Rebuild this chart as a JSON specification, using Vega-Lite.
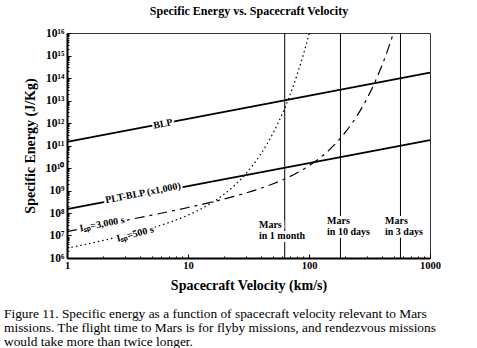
{
  "$schema": "https://vega.github.io/schema/vega-lite/v6.json",
  "width": 363,
  "height": 225,
  "autosize": {"type": "none"},
  "padding": {"left": 67, "top": 33, "right": 47, "bottom": 90},
  "background": "white",
  "config": {"view": {"stroke": "#333", "strokeWidth": 1}, "font": "Liberation Serif"},
  "title": {
    "text": ["Figure 11. Specific energy as a function of spacecraft velocity relevant to Mars", "missions.  The flight time to Mars is for flyby missions, and rendezvous missions", "would take more than twice longer."],
    "orient": "bottom",
    "anchor": "start",
    "frame": "group",
    "font": "Liberation Serif",
    "fontSize": 13.4,
    "fontWeight": "normal",
    "color": "black",
    "lineHeight": 14,
    "offset": 14,
    "dx": -63
  },
  "datasets": {
    "lines": [
      {"series": "BLP", "v": 1, "E": 1.45e11},
      {"series": "BLP", "v": 1000, "E": 1.75e14},
      {"series": "PLT-BLP", "v": 1, "E": 1.5e8},
      {"series": "PLT-BLP", "v": 1000, "E": 1.75e11}
    ],
    "isp": [
      {"series": "500", "v": 1, "E": 2.72e6},
      {"series": "500", "v": 1.5, "E": 4.30e6},
      {"series": "500", "v": 2, "E": 6.05e6},
      {"series": "500", "v": 3, "E": 1.014e7},
      {"series": "500", "v": 4, "E": 1.515e7},
      {"series": "500", "v": 5, "E": 2.13e7},
      {"series": "500", "v": 7, "E": 3.81e7},
      {"series": "500", "v": 10, "E": 8.04e7},
      {"series": "500", "v": 12, "E": 1.27e8},
      {"series": "500", "v": 15, "E": 2.44e8},
      {"series": "500", "v": 17, "E": 3.73e8},
      {"series": "500", "v": 20, "E": 6.99e8},
      {"series": "500", "v": 25, "E": 1.96e9},
      {"series": "500", "v": 30, "E": 5.46e9},
      {"series": "500", "v": 35, "E": 1.517e10},
      {"series": "500", "v": 40, "E": 4.21e10},
      {"series": "500", "v": 45, "E": 1.169e11},
      {"series": "500", "v": 50, "E": 3.24e11},
      {"series": "500", "v": 55, "E": 8.99e11},
      {"series": "500", "v": 60, "E": 2.50e12},
      {"series": "500", "v": 65, "E": 6.92e12},
      {"series": "500", "v": 70, "E": 1.92e13},
      {"series": "500", "v": 75, "E": 5.33e13},
      {"series": "500", "v": 80, "E": 1.48e14},
      {"series": "500", "v": 85, "E": 4.10e14},
      {"series": "500", "v": 90, "E": 1.14e15},
      {"series": "500", "v": 95, "E": 3.16e15},
      {"series": "500", "v": 100, "E": 8.76e15},
      {"series": "500", "v": 105, "E": 2.43e16},
      {"series": "3000", "v": 1, "E": 1.495e7},
      {"series": "3000", "v": 1.5, "E": 2.262e7},
      {"series": "3000", "v": 2, "E": 3.04e7},
      {"series": "3000", "v": 3, "E": 4.64e7},
      {"series": "3000", "v": 5, "E": 8.01e7},
      {"series": "3000", "v": 7, "E": 1.162e8},
      {"series": "3000", "v": 10, "E": 1.751e8},
      {"series": "3000", "v": 15, "E": 2.877e8},
      {"series": "3000", "v": 20, "E": 4.21e8},
      {"series": "3000", "v": 30, "E": 7.67e8},
      {"series": "3000", "v": 40, "E": 1.25e9},
      {"series": "3000", "v": 50, "E": 1.935e9},
      {"series": "3000", "v": 70, "E": 4.24e9},
      {"series": "3000", "v": 100, "E": 1.254e10},
      {"series": "3000", "v": 125, "E": 2.99e10},
      {"series": "3000", "v": 150, "E": 7.06e10},
      {"series": "3000", "v": 200, "E": 3.89e11},
      {"series": "3000", "v": 250, "E": 2.13e12},
      {"series": "3000", "v": 300, "E": 1.167e13},
      {"series": "3000", "v": 350, "E": 6.40e13},
      {"series": "3000", "v": 400, "E": 3.50e14},
      {"series": "3000", "v": 450, "E": 1.92e15},
      {"series": "3000", "v": 500, "E": 1.05e16},
      {"series": "3000", "v": 520, "E": 2.08e16}
    ],
    "mars": [
      {"name": "Mars in 1 month", "v": 63},
      {"name": "Mars in 10 days", "v": 182},
      {"name": "Mars in 3 days", "v": 570}
    ],
    "labels": [
      {"key": "line", "text": "BLP", "v": 6.2, "E": 9.0e11},
      {"key": "line", "text": "PLT-BLP (x1,000)", "v": 4.25, "E": 7.7e8},
      {"key": "i3000", "text": "Iₛₚ=3,000 s", "v": 1.95, "E": 3.2e7},
      {"key": "i500", "text": "Iₛₚ=500 s", "v": 3.65, "E": 1.17e7},
      {"key": "mars", "text": "Mars\nin 1 month", "v": 38.6, "E": 4.9e7},
      {"key": "mars", "text": "Mars\nin 10 days", "v": 141, "E": 7.4e7},
      {"key": "mars", "text": "Mars\nin 3 days", "v": 425, "E": 7.4e7}
    ]
  },
  "resolve": {"axis": {"x": "independent"}},
  "layer": [
    {
      "data": {"name": "lines"},
      "mark": {"type": "line", "color": "black", "strokeWidth": 1.8},
      "encoding": {
        "x": {
          "field": "v", "type": "quantitative",
          "scale": {"type": "log", "domain": [1, 1000], "nice": false},
          "axis": {
            "orient": "bottom",
            "values": [1, 2, 3, 4, 5, 6, 7, 8, 9, 10, 20, 30, 40, 50, 60, 70, 80, 90, 100, 200, 300, 400, 500, 600, 700, 800, 900, 1000],
            "labelExpr": "abs(log(datum.value)/LN10 - round(log(datum.value)/LN10)) < 0.01 ? format(datum.value, 'd') : ''",
            "tickSize": {"condition": {"test": "abs(log(datum.value)/LN10 - round(log(datum.value)/LN10)) < 0.01", "value": -4}, "value": -2},
            "tickColor": "black",
            "domainColor": "black",
            "domainWidth": 2,
            "grid": false,
            "labelFont": "Liberation Serif",
            "labelFontWeight": "bold",
            "labelFontSize": 10.5,
            "labelColor": "black",
            "labelPadding": 6,
            "labelOverlap": false,
            "labelFlush": false,
            "title": "Spacecraft Velocity (km/s)",
            "titleFont": "Liberation Serif",
            "titleFontSize": 14,
            "titleFontWeight": "bold",
            "titleColor": "black",
            "titlePadding": 6
          }
        },
        "y": {
          "field": "E", "type": "quantitative",
          "scale": {"type": "log", "domain": [1e6, 1e16], "nice": false},
          "axis": {
            "values": [1e6, 2e6, 3e6, 4e6, 5e6, 6e6, 7e6, 8e6, 9e6, 1e7, 2e7, 3e7, 4e7, 5e7, 6e7, 7e7, 8e7, 9e7, 1e8, 2e8, 3e8, 4e8, 5e8, 6e8, 7e8, 8e8, 9e8, 1e9, 2e9, 3e9, 4e9, 5e9, 6e9, 7e9, 8e9, 9e9, 1e10, 2e10, 3e10, 4e10, 5e10, 6e10, 7e10, 8e10, 9e10, 1e11, 2e11, 3e11, 4e11, 5e11, 6e11, 7e11, 8e11, 9e11, 1e12, 2e12, 3e12, 4e12, 5e12, 6e12, 7e12, 8e12, 9e12, 1e13, 2e13, 3e13, 4e13, 5e13, 6e13, 7e13, 8e13, 9e13, 1e14, 2e14, 3e14, 4e14, 5e14, 6e14, 7e14, 8e14, 9e14, 1e15, 2e15, 3e15, 4e15, 5e15, 6e15, 7e15, 8e15, 9e15, 1e16],
            "labelExpr": "abs(log(datum.value)/LN10 - round(log(datum.value)/LN10)) < 0.01 ? '10' + (round(log(datum.value)/LN10) >= 10 ? '¹' : '') + ['⁰','¹','²','³','⁴','⁵','⁶','⁷','⁸','⁹'][round(log(datum.value)/LN10) % 10] : ''",
            "tickSize": {"condition": {"test": "abs(log(datum.value)/LN10 - round(log(datum.value)/LN10)) < 0.01", "value": -4}, "value": -2},
            "tickColor": "black",
            "domainColor": "black",
            "domainWidth": 2,
            "grid": false,
            "labelFont": "Liberation Serif",
            "labelFontWeight": "bold",
            "labelFontSize": 11.5,
            "labelColor": "black",
            "labelPadding": 7,
            "labelOverlap": false,
            "labelFlush": false,
            "title": "Specific Energy (J/Kg)",
            "titleFont": "Liberation Serif",
            "titleFontSize": 14,
            "titleFontWeight": "bold",
            "titleColor": "black",
            "titlePadding": 8
          }
        },
        "detail": {"field": "series", "type": "nominal"}
      }
    },
    {
      "data": {"name": "isp"},
      "transform": [{"filter": "datum.series == '500'"}],
      "mark": {"type": "line", "color": "black", "strokeWidth": 1.2, "strokeDash": [1.5, 3], "clip": true, "interpolate": "monotone"},
      "encoding": {
        "x": {"field": "v", "type": "quantitative", "axis": null},
        "y": {"field": "E", "type": "quantitative"}
      }
    },
    {
      "data": {"name": "isp"},
      "transform": [{"filter": "datum.series == '3000'"}],
      "mark": {"type": "line", "color": "black", "strokeWidth": 1.2, "strokeDash": [10, 5, 3, 5], "clip": true, "interpolate": "monotone"},
      "encoding": {
        "x": {"field": "v", "type": "quantitative", "axis": null},
        "y": {"field": "E", "type": "quantitative"}
      }
    },
    {
      "data": {"name": "mars"},
      "mark": {"type": "rule", "color": "black", "strokeWidth": 1},
      "encoding": {
        "x": {
          "field": "v", "type": "quantitative",
          "axis": {
            "orient": "top",
            "labels": false,
            "ticks": false,
            "domain": false,
            "grid": false,
            "title": "Specific Energy vs. Spacecraft Velocity",
            "titleFont": "Liberation Serif",
            "titleFontSize": 12,
            "titleFontWeight": "bold",
            "titleColor": "black",
            "titlePadding": 16
          }
        }
      }
    },
    {
      "data": {"name": "labels"},
      "transform": [{"filter": "datum.key == 'line'"}],
      "mark": {"type": "text", "font": "Liberation Serif", "fontWeight": "bold", "fontSize": 10, "angle": 349, "color": "white", "stroke": "white", "strokeWidth": 4},
      "encoding": {
        "x": {"field": "v", "type": "quantitative", "axis": null},
        "y": {"field": "E", "type": "quantitative"},
        "text": {"field": "text"}
      }
    },
    {
      "data": {"name": "labels"},
      "transform": [{"filter": "datum.key == 'line'"}],
      "mark": {"type": "text", "font": "Liberation Serif", "fontWeight": "bold", "fontSize": 10, "angle": 349, "color": "black"},
      "encoding": {
        "x": {"field": "v", "type": "quantitative", "axis": null},
        "y": {"field": "E", "type": "quantitative"},
        "text": {"field": "text"}
      }
    },
    {
      "data": {"name": "labels"},
      "transform": [{"filter": "datum.key == 'i3000'"}],
      "mark": {"type": "text", "font": "Liberation Serif", "fontWeight": "bold", "fontSize": 10, "angle": 349, "color": "white", "stroke": "white", "strokeWidth": 4},
      "encoding": {
        "x": {"field": "v", "type": "quantitative", "axis": null},
        "y": {"field": "E", "type": "quantitative"},
        "text": {"field": "text"}
      }
    },
    {
      "data": {"name": "labels"},
      "transform": [{"filter": "datum.key == 'i3000'"}],
      "mark": {"type": "text", "font": "Liberation Serif", "fontWeight": "bold", "fontSize": 10, "angle": 349, "color": "black"},
      "encoding": {
        "x": {"field": "v", "type": "quantitative", "axis": null},
        "y": {"field": "E", "type": "quantitative"},
        "text": {"field": "text"}
      }
    },
    {
      "data": {"name": "labels"},
      "transform": [{"filter": "datum.key == 'i500'"}],
      "mark": {"type": "text", "font": "Liberation Serif", "fontWeight": "bold", "fontSize": 10, "angle": 345, "color": "white", "stroke": "white", "strokeWidth": 4},
      "encoding": {
        "x": {"field": "v", "type": "quantitative", "axis": null},
        "y": {"field": "E", "type": "quantitative"},
        "text": {"field": "text"}
      }
    },
    {
      "data": {"name": "labels"},
      "transform": [{"filter": "datum.key == 'i500'"}],
      "mark": {"type": "text", "font": "Liberation Serif", "fontWeight": "bold", "fontSize": 10, "angle": 345, "color": "black"},
      "encoding": {
        "x": {"field": "v", "type": "quantitative", "axis": null},
        "y": {"field": "E", "type": "quantitative"},
        "text": {"field": "text"}
      }
    },
    {
      "data": {"name": "labels"},
      "transform": [{"filter": "datum.key == 'mars'"}],
      "mark": {"type": "text", "font": "Liberation Serif", "fontWeight": "bold", "fontSize": 10, "align": "left", "baseline": "top", "lineBreak": "\n", "lineHeight": 11.5, "color": "white", "stroke": "white", "strokeWidth": 6},
      "encoding": {
        "x": {"field": "v", "type": "quantitative", "axis": null},
        "y": {"field": "E", "type": "quantitative"},
        "text": {"field": "text"}
      }
    },
    {
      "data": {"name": "labels"},
      "transform": [{"filter": "datum.key == 'mars'"}],
      "mark": {"type": "text", "font": "Liberation Serif", "fontWeight": "bold", "fontSize": 10, "align": "left", "baseline": "top", "lineBreak": "\n", "lineHeight": 11.5, "color": "black"},
      "encoding": {
        "x": {"field": "v", "type": "quantitative", "axis": null},
        "y": {"field": "E", "type": "quantitative"},
        "text": {"field": "text"}
      }
    }
  ]
}
